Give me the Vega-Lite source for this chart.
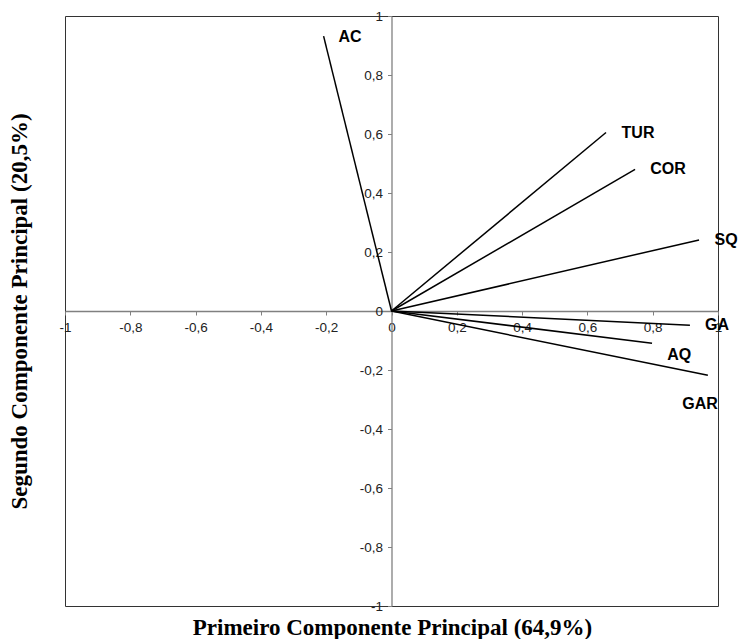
{
  "$schema": "https://vega.github.io/schema/vega-lite/v6.json",
  "width": 653,
  "height": 590,
  "autosize": "none",
  "padding": {"left": 65, "top": 16, "right": 22, "bottom": 33},
  "background": "white",
  "config": {
    "view": {"stroke": "#333", "strokeWidth": 1},
    "font": "Liberation Sans"
  },
  "data": {
    "values": [
      {"name": "AC", "x": -0.208, "y": 0.932, "lx": -0.127, "ly": 0.929},
      {"name": "TUR", "x": 0.657, "y": 0.605, "lx": 0.755, "ly": 0.605},
      {"name": "COR", "x": 0.746, "y": 0.48, "lx": 0.847, "ly": 0.48},
      {"name": "SQ", "x": 0.942, "y": 0.241, "lx": 1.025, "ly": 0.241},
      {"name": "GA", "x": 0.914, "y": -0.048, "lx": 0.997, "ly": -0.048},
      {"name": "AQ", "x": 0.798, "y": -0.109, "lx": 0.881, "ly": -0.15},
      {"name": "GAR", "x": 0.969, "y": -0.218, "lx": 0.945, "ly": -0.316}
    ]
  },
  "layer": [
    {
      "mark": {"type": "rule", "color": "black", "strokeWidth": 1.5},
      "encoding": {
        "x": {
          "field": "x",
          "type": "quantitative",
          "scale": {"domain": [-1, 1], "nice": false, "zero": false},
          "axis": {
            "orient": "bottom",
            "offset": -295,
            "values": [-1, -0.8, -0.6, -0.4, -0.2, 0, 0.2, 0.4, 0.6, 0.8, 1],
            "grid": false,
            "domainColor": "#808080",
            "domainWidth": 1.3,
            "tickColor": "#808080",
            "tickSize": 4,
            "labelFont": "Liberation Sans",
            "labelFontSize": 13.5,
            "labelColor": "#222",
            "labelPadding": 5,
            "labelFlush": false,
            "labelOverlap": false,
            "labelExpr": "(datum.value < 0 ? '-' : '') + replace(format(abs(datum.value), '.1~f'), '.', ',')",
            "title": "Primeiro Componente Principal (64,9%)",
            "titleFont": "Liberation Serif",
            "titleFontWeight": "bold",
            "titleFontSize": 23,
            "titleColor": "black",
            "titleX": 327,
            "titleY": 323,
            "titleAlign": "center",
            "titleBaseline": "alphabetic"
          }
        },
        "y": {
          "field": "y",
          "type": "quantitative",
          "scale": {"domain": [-1, 1], "nice": false, "zero": false},
          "axis": {
            "orient": "left",
            "offset": -326.5,
            "values": [-1, -0.8, -0.6, -0.4, -0.2, 0, 0.2, 0.4, 0.6, 0.8, 1],
            "grid": false,
            "domainColor": "#808080",
            "domainWidth": 1.3,
            "tickColor": "#808080",
            "tickSize": 4,
            "labelFont": "Liberation Sans",
            "labelFontSize": 13.5,
            "labelColor": "#222",
            "labelPadding": 5,
            "labelFlush": false,
            "labelOverlap": false,
            "labelExpr": "(datum.value < 0 ? '-' : '') + replace(format(abs(datum.value), '.1~f'), '.', ',')",
            "title": "Segundo Componente Principal (20,5%)",
            "titleFont": "Liberation Serif",
            "titleFontWeight": "bold",
            "titleFontSize": 23,
            "titleColor": "black",
            "titleAngle": -90,
            "titleX": -365,
            "titleY": 295,
            "titleAlign": "center",
            "titleBaseline": "alphabetic"
          }
        },
        "x2": {"datum": 0},
        "y2": {"datum": 0}
      }
    },
    {
      "mark": {
        "type": "text",
        "font": "Liberation Sans",
        "fontWeight": "bold",
        "fontSize": 16,
        "color": "black",
        "align": "center",
        "baseline": "middle",
        "clip": false
      },
      "encoding": {
        "x": {"field": "lx", "type": "quantitative"},
        "y": {"field": "ly", "type": "quantitative"},
        "text": {"field": "name"}
      }
    }
  ]
}
